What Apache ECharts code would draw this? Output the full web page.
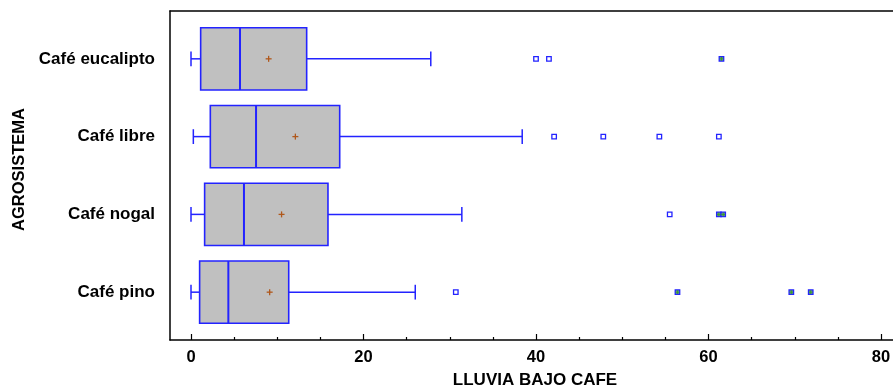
<!DOCTYPE html>
<html>
<head>
<meta charset="utf-8">
<script src="https://cdn.jsdelivr.net/npm/echarts@6/dist/echarts.min.js"></script>
<style>
  html, body { margin: 0; padding: 0; background: #ffffff; }
  #chart { width: 893px; height: 389px; }
</style>
</head>
<body>
<div id="chart"></div>
<script>
// Box-and-whisker summary of rain under coffee, by agro-system
const categories = ['Café eucalipto', 'Café libre', 'Café nogal', 'Café pino'];
const whiskerLow  = [0.0, 0.27, 0.0, 0.0];
const quartile1   = [1.12, 2.24, 1.58, 1.0];
const medians     = [5.68, 7.54, 6.14, 4.33];
const quartile3   = [13.41, 17.24, 15.88, 11.33];
const whiskerHigh = [27.8, 38.4, 31.4, 26.0];
const means       = [9.0, 12.1, 10.5, 9.12];
// outside points and far-outside points (the latter carry a plus mark)
const outsidePoints    = [[40.0, 41.5], [42.1, 47.8, 54.3, 61.2], [55.5], [30.7]];
const farOutsidePoints = [[61.5], [], [61.2, 61.7], [56.4, 69.6, 71.85]];
const xTickLabels = [0, 20, 40, 60, 80];
const xMinorTicks = [5, 10, 15, 25, 30, 35, 45, 50, 55, 65, 70, 75];

const FONT = '"Liberation Sans", Arial, Helvetica, sans-serif';
const BLUE = '#2323ff';

// category i sits at row value (n - i) so the first one is on top
const rowOf = i => categories.length - i;

const boxData = categories.map((c, i) => [
  rowOf(i), whiskerLow[i], quartile1[i], medians[i], quartile3[i], whiskerHigh[i], means[i]
]);
const outsideData = [];
const farData = [];
categories.forEach((c, i) => {
  outsidePoints[i].forEach(v => outsideData.push([v, rowOf(i)]));
  farOutsidePoints[i].forEach(v => farData.push([v, rowOf(i)]));
});

function renderBox(params, api) {
  const row = api.value(0);
  const pLo = api.coord([api.value(1), row]);
  const pQ1 = api.coord([api.value(2), row]);
  const pMed = api.coord([api.value(3), row]);
  const pQ3 = api.coord([api.value(4), row]);
  const pHi = api.coord([api.value(5), row]);
  const pMean = api.coord([api.value(6), row]);
  const h = api.size([0, 0.8])[1];
  const capH = api.size([0, 0.19])[1];
  const cy = pQ1[1];
  const line = (x1, y1, x2, y2, w, color) => ({
    type: 'line',
    shape: { x1, y1, x2, y2 },
    style: { stroke: color || BLUE, lineWidth: w }
  });
  return {
    type: 'group',
    children: [
      line(pLo[0], cy, pQ1[0], cy, 1.5),
      line(pQ3[0], cy, pHi[0], cy, 1.5),
      line(pLo[0], cy - capH / 2, pLo[0], cy + capH / 2, 1.5),
      line(pHi[0], cy - capH / 2, pHi[0], cy + capH / 2, 1.5),
      {
        type: 'rect',
        shape: { x: pQ1[0], y: cy - h / 2, width: pQ3[0] - pQ1[0], height: h },
        style: { fill: '#c0c0c0', stroke: BLUE, lineWidth: 1.6 }
      },
      line(pMed[0], cy - h / 2, pMed[0], cy + h / 2, 2),
      line(pMean[0] - 3, cy, pMean[0] + 3, cy, 1.3, '#b0581c'),
      line(pMean[0], cy - 3, pMean[0], cy + 3, 1.3, '#b0581c')
    ]
  };
}

const chart = echarts.init(document.getElementById('chart'), null, { renderer: 'canvas' });

// the plot runs on past the right edge of the page
const xMin = -2.435;
const xMax = 82.2;
const baseX = {
  type: 'value', min: xMin, max: xMax,
  splitLine: { show: false }
};

chart.setOption({
  animation: false,
  backgroundColor: '#ffffff',
  grid: { left: 170, top: 11, width: 730, height: 329, containLabel: false, outerBoundsMode: 'none' },
  xAxis: [
    Object.assign({}, baseX, {
      position: 'bottom',
      name: 'LLUVIA BAJO CAFE',
      nameLocation: 'middle',
      nameGap: 32,
      nameTextStyle: { fontFamily: FONT, fontWeight: 'bold', fontSize: 17, color: '#000' },
      axisLine: { show: true, onZero: false, lineStyle: { color: '#000', width: 1.5 } },
      axisTick: { show: true, inside: true, length: 6, customValues: xTickLabels,
                  lineStyle: { color: '#000', width: 1.2 } },
      axisLabel: { show: true, customValues: xTickLabels, margin: 9,
                   fontFamily: FONT, fontWeight: 'bold', fontSize: 16.5, color: '#000' }
    }),
    Object.assign({}, baseX, {
      position: 'bottom',
      axisLine: { show: false },
      axisTick: { show: true, inside: true, length: 3, customValues: xMinorTicks,
                  lineStyle: { color: '#000', width: 1.2 } },
      axisLabel: { show: false }
    }),
    Object.assign({}, baseX, {
      position: 'top',
      axisLine: { show: true, onZero: false, lineStyle: { color: '#000', width: 1.5 } },
      axisTick: { show: false },
      axisLabel: { show: false }
    })
  ],
  yAxis: {
    type: 'value', min: 0.385, max: 4.615,
    name: 'AGROSISTEMA',
    nameLocation: 'middle',
    nameRotate: 90,
    nameGap: 141,
    nameTextStyle: { fontFamily: FONT, fontWeight: 'bold', fontSize: 16.5, color: '#000',
                     padding: [0, 0, 0, 12] },
    splitLine: { show: false },
    axisLine: { show: true, onZero: false, lineStyle: { color: '#000', width: 1.5 } },
    axisTick: { show: false },
    axisLabel: {
      show: true,
      customValues: categories.map((c, i) => rowOf(i)),
      formatter: v => categories[categories.length - Math.round(v)] || '',
      margin: 15,
      fontFamily: FONT, fontWeight: 'bold', fontSize: 17, color: '#000'
    }
  },
  series: [
    {
      type: 'custom',
      xAxisIndex: 0,
      renderItem: renderBox,
      encode: { x: [1, 2, 3, 4, 5, 6], y: 0 },
      data: boxData,
      silent: true
    },
    {
      type: 'scatter',
      xAxisIndex: 0,
      symbol: 'rect',
      symbolSize: 4.5,
      itemStyle: { color: '#ffffff', borderColor: BLUE, borderWidth: 1.3, opacity: 1 },
      data: outsideData,
      silent: true
    },
    {
      type: 'scatter',
      xAxisIndex: 0,
      symbol: 'rect',
      symbolSize: 4.5,
      itemStyle: { color: '#6fa06f', borderColor: BLUE, borderWidth: 1.3, opacity: 1 },
      data: farData,
      silent: true
    },
    {
      type: 'scatter',
      xAxisIndex: 0,
      symbol: 'path://M2,0H3V5H2ZM0,2H5V3H0Z',
      symbolSize: 4,
      itemStyle: { color: '#2e9a2e', opacity: 1 },
      data: farData,
      silent: true,
      z: 5
    }
  ]
});
</script>
</body>
</html>
